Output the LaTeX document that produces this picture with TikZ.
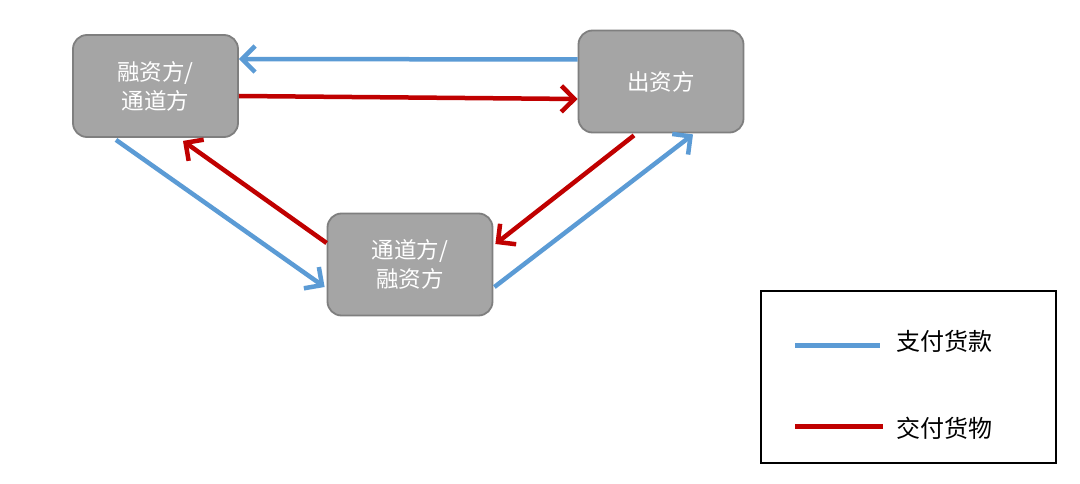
\documentclass[tikz,border=0pt]{standalone}
\usepackage{fontspec}
\newfontfamily\cjk{Noto Sans CJK SC}
\usetikzlibrary{arrows.meta,calc}
\definecolor{boxgray}{HTML}{A5A5A5}
\definecolor{boxedge}{HTML}{7F7F7F}
\definecolor{payblue}{HTML}{5B9BD5}
\definecolor{goodsred}{HTML}{C00000}
\tikzset{
  party/.style={draw=boxedge, line width=1.8pt, fill=boxgray, rounded corners=14pt,
    minimum width=165pt, minimum height=102pt, inner sep=0pt, align=center,
    text=white, font=\cjk\fontsize{22.5}{29}\selectfont},
  flow/.style={line width=4.5pt, -{Straight Barb[length=13pt,width=26pt,line width=4.5pt]}},
  pay/.style={flow, draw=payblue},
  goods/.style={flow, draw=goodsred},
  legline/.style={line width=5pt},
  legtext/.style={font=\cjk\fontsize{24}{28}\selectfont, text=black, anchor=west, inner sep=0pt}
}
\begin{document}
\begin{tikzpicture}[x=1pt,y=-1pt]
\useasboundingbox (0,0) rectangle (1080,484);
\fill[white] (0,0) rectangle (1080,484);
\node[party] (A) at (155.5,86) {融资方/\\通道方};
\node[party] (B) at (661,81.5) {出资方};
\node[party] (C) at (410,264.5) {通道方/\\融资方};
% flows
\draw[pay] ($(B.west)+(0,-22)$) -- ($(A.east)+(0,-27)$);
\draw[goods] ($(A.east)+(0,10)$) -- ($(B.west)+(0,17.5)$);
\draw[pay] ($(A.south)+(-39.5,2)$) -- ($(C.west)+(-2,22.5)$);
\draw[goods] ($(C.west)+(0,-21.5)$) -- ($(A.south)+(27.5,3)$);
\draw[goods] ($(B.south)+(-27,2)$) -- ($(C.east)+(2,-20.5)$);
\draw[pay] ($(C.east)+(1,22.5)$) -- ($(B.south)+(32,1)$);
% legend
\node[draw=black, line width=2.5pt, fill=white, minimum width=295pt, minimum height=172pt, inner sep=0pt] (L) at (908.5,377) {};
\coordinate (b1) at (795,345);
\coordinate (b2) at (880,345);
\coordinate (r1) at (795,426);
\coordinate (r2) at (883,426);
\draw[legline, payblue] (b1) -- (b2);
\draw[legline, goodsred] (r1) -- (r2);
\node[legtext] (tpay) at (896,341) {支付货款};
\node[legtext] (tgoods) at (896,428) {交付货物};
\end{tikzpicture}
\end{document}
